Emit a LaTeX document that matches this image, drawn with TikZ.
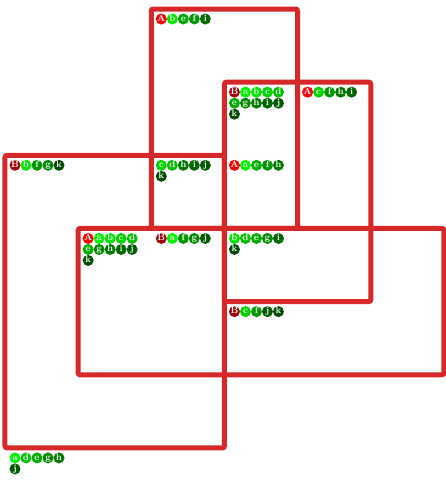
\documentclass[tikz,border=0pt]{standalone}
\usetikzlibrary{positioning}
\definecolor{framered}{RGB}{214,40,40}
\definecolor{colA}{RGB}{250,0,0}
\definecolor{colB}{RGB}{160,0,10}
\definecolor{cola}{RGB}{0,245,0}
\definecolor{colb}{RGB}{0,228,0}
\definecolor{colc}{RGB}{0,212,0}
\definecolor{cold}{RGB}{0,192,0}
\definecolor{cole}{RGB}{0,172,0}
\definecolor{colf}{RGB}{0,152,0}
\definecolor{colg}{RGB}{0,136,0}
\definecolor{colh}{RGB}{0,120,0}
\definecolor{coli}{RGB}{0,104,0}
\definecolor{colj}{RGB}{0,90,0}
\definecolor{colk}{RGB}{0,76,0}

% one row of letter dots in the cell whose corner is (#2,#3)
\newcommand{\ltrrow}[5]{%
  \foreach \ch [count=\idx] in {#5}
    \node[ltr=\ch, xshift={10pt+(\idx-1)*11pt}, yshift={-10pt-#4*11pt}]
      (#1-#4-\idx) at (#2,#3) {\ch};}

\begin{document}
\begin{tikzpicture}[
    x=73.15pt, y=-73.15pt,
    frame/.style={draw=framered, line width=5pt, rounded corners=2pt},
    ltr/.style={circle, inner sep=0pt, minimum size=11pt, fill=col#1, text=white,
        text height=6pt, text depth=1.5pt, font=\fontsize{9.5}{9.5}\selectfont\bfseries},
]
\useasboundingbox (-5pt,9pt) rectangle (441pt,-473pt);

\draw[frame] (2,0) rectangle (4,3);
\draw[frame] (3,1) rectangle (5,4);
\draw[frame] (0,2) rectangle (3,6);
\draw[frame] (1,3) rectangle (6,5);

\ltrrow{one}{2}{0}{0}{A,b,e,f,i}

\ltrrow{two}{3}{1}{0}{B,a,b,c,d}
\ltrrow{two}{3}{1}{1}{e,g,h,i,j}
\ltrrow{two}{3}{1}{2}{k}

\ltrrow{three}{4}{1}{0}{A,c,f,h,i}

\ltrrow{four}{0}{2}{0}{B,b,f,g,k}

\ltrrow{five}{2}{2}{0}{c,d,h,i,j}
\ltrrow{five}{2}{2}{1}{k}

\ltrrow{six}{3}{2}{0}{A,a,e,f,h}

\ltrrow{seven}{1}{3}{0}{A,a,b,c,d}
\ltrrow{seven}{1}{3}{1}{e,g,h,i,j}
\ltrrow{seven}{1}{3}{2}{k}

\ltrrow{eight}{2}{3}{0}{B,a,f,g,j}

\ltrrow{nine}{3}{3}{0}{b,d,e,g,i}
\ltrrow{nine}{3}{3}{1}{k}

\ltrrow{ten}{3}{4}{0}{B,c,f,j,k}

% outside every box
\ltrrow{eleven}{0}{6}{0}{a,d,e,g,h}
\ltrrow{eleven}{0}{6}{1}{j}

\end{tikzpicture}
\end{document}
